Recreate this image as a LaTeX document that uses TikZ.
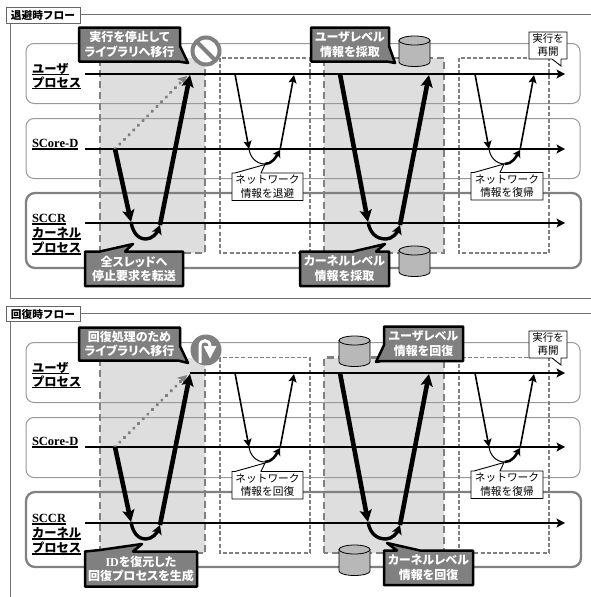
\documentclass[tikz,border=0pt]{standalone}
\usepackage{fontspec}
\setmainfont{Noto Sans CJK JP}
\newfontfamily\jpp{Noto Sans CJK JP}[RawFeature={+palt}]
\newfontfamily\tms{Liberation Serif}
\usetikzlibrary{arrows.meta}
\tikzset{
  every node/.style={inner sep=0pt,outer sep=0pt,align=center},
  lane/.style={rounded corners=8pt,draw=black!40,line width=1pt},
  kernellane/.style={rounded corners=9pt,draw=black!50,line width=2.3pt},
  shade/.style={fill=black!13,draw=none},
  thickdash/.style={draw=black!50,line width=2.7pt,dash pattern=on 7pt off 4pt},
  thindash/.style={draw=black!50,line width=1.2pt,dash pattern=on 4pt off 2.2pt},
  timeline/.style={line width=2.4pt,-{Stealth[length=8.5pt,width=9pt,inset=2pt]}},
  bigarrow/.style={line width=4.6pt,-{Stealth[length=12pt,width=12pt,inset=2.5pt]}},
  bigcurve/.style={line width=3.4pt,-{Stealth[length=9pt,width=10pt,inset=2pt]}},
  smallarrow/.style={line width=1.6pt,-{Stealth[length=8pt,width=8pt,inset=1.5pt]}},
  smallcurve/.style={line width=1pt},
  smallcurvetip/.style={line width=2.6pt,-{Stealth[length=7pt,width=8.5pt,inset=1.5pt]}},
  dotarrow/.style={draw=black!50,line width=3.2pt,dash pattern=on 0.6pt off 6pt,line cap=round,-{Stealth[length=9pt,width=10pt,inset=2pt]}},
  calloutshape/.style={fill=black!50,draw=black,line width=2.5pt,line join=round},
  callouttext/.style={text=white,font=\jpp\bfseries\fontsize{12}{14.5}\selectfont},
  noteshape/.style={fill=white,draw=black,line width=0.9pt},
  notetext/.style={text=black,font=\fontsize{10.7}{13.2}\selectfont},
  lanelabel/.style={font=\bfseries\fontsize{12.3}{12.3}\selectfont,anchor=west},
  lanelatin/.style={font=\tms\bfseries\fontsize{12.5}{12.5}\selectfont,anchor=west},
  ruleline/.style={line width=1.3pt,draw=black},
  titlebox/.style={draw=black!60,fill=white,line width=0.9pt,minimum width=74pt,minimum height=15.5pt,font=\bfseries\fontsize{10.7}{11}\selectfont},
  framebar/.style={draw=black!55,line width=1pt},
  cyl/.style={fill=black!28,draw=black,line width=0.8pt},
}
\newcommand{\drum}[2]{% left x, top y
  \path[cyl] (#1,#2+4.5) -- (#1,#2+26) arc[start angle=180,end angle=360,x radius=15.5pt,y radius=4.5pt] -- (#1+31,#2+4.5) -- cycle;
  \path[cyl] (#1+15.5,#2+4.5) ellipse[x radius=15.5pt,y radius=4.5pt];
}
% style, text, y of text centre, y of rule
\newcommand{\lanename}[4]{%
  \node[#1] (nm) at (32,#3) {#2};
  \coordinate (nr) at (32,#4);
  \draw[ruleline] (nr) -- (nm.east |- nr);
}
% #1 = y of user line, #2 = y of SCore-D line, #3 = y of SCCR line,
% #4 = top of shading, #5 = bottom of shading, #6..#8 = tops of lanes
\newcommand{\lanes}[8]{%
  \fill[shade] (100,#4) rectangle (205,#5);
  \fill[shade] (324,#4) rectangle (444,#5);
  \path[lane] (26,#6) rectangle (580,#6+60);
  \path[lane] (26,#7) rectangle (580,#7+60);
  \path[kernellane] (26,#8) rectangle (581,#8+75);
  \path[thickdash] (100,#5) -- (100,#4);
  \path[thickdash] (205,#4) -- (205,#5) -- (100,#5);
  \path[thickdash] (324,#5) -- (324,#4) -- (444,#4) -- (444,#5) -- cycle;
  \path[thindash] (220,#4) rectangle (310,#5);
  \path[thindash] (459,#4) rectangle (549,#5);
  \coordinate (ur) at (565,#1);
  \draw[timeline] (ul) -- (ur);
  \coordinate (sl) at (85,#2);  \coordinate (kl) at (85,#3);
  \coordinate (sr) at (565,#2); \coordinate (kr) at (565,#3);
  \draw[timeline] (sl) -- (sr);
  \draw[timeline] (kl) -- (kr);
  % first gray phase
  \coordinate (a0) at (115,#2);   \coordinate (a1) at (131,#3-1);
  \coordinate (a2) at (160,#3+2); \coordinate (a3) at (190,#1+1);
  \coordinate (a4) at (187,#1+2);
  \draw[dotarrow] (a0) -- (a4);
  \draw[bigarrow] (a0) -- (a1);
  \draw[bigcurve] (a1) .. controls (133,#3+10) and (138,#3+16) .. (146,#3+16) .. controls (152,#3+16) and (157,#3+10) .. (a2);
  \draw[bigarrow] (a2) -- (a3);
  % second gray phase
  \coordinate (b0) at (340,#1);   \coordinate (b1) at (368,#3-1);
  \coordinate (b2) at (400,#3+2); \coordinate (b3) at (429,#1+1);
  \draw[bigarrow] (b0) -- (b1);
  \draw[bigcurve] (b1) .. controls (370,#3+10) and (376,#3+16) .. (386,#3+16) .. controls (392,#3+16) and (397,#3+10) .. (b2);
  \draw[bigarrow] (b2) -- (b3);
  % network phases
  \foreach \xa/\xb/\xc/\xd/\xm in {235/249/280/294/265,475/489/520/534/505}{
    \coordinate (c0) at (\xa,#1); \coordinate (c1) at (\xb,#2);
    \coordinate (c2) at (\xm,#2+15); \coordinate (c3) at (\xc,#2+1); \coordinate (c4) at (\xd,#1+1);
    \draw[smallarrow] (c0) -- (c1);
    \draw[smallcurve] (c1) .. controls (\xb+1,#2+8) and (\xb+7,#2+15) .. (c2);
    \draw[smallcurvetip] (c2) .. controls (\xm+7,#2+15) and (\xm+11,#2+8) .. (c3);
    \draw[smallarrow] (c3) -- (c4);
  }
  % lane names
  \lanename{lanelabel}{ユーザ}{#1-5}{#1+0.5}
  \lanename{lanelabel}{プロセス}{#1+8.7}{#1+14.5}
  \lanename{lanelatin}{SCore-D}{#2-6}{#2}
  \lanename{lanelatin}{SCCR}{#3-5}{#3+1}
  \lanename{lanelabel}{カーネル}{#3+9.5}{#3+16}
  \lanename{lanelabel}{プロセス}{#3+25}{#3+31}
}
\newcommand{\netnote}[4]{% left x, top y, right x, text
  \path[noteshape] (#1,#2) -- (#1+3,#2) -- (#1+33,#2-8.5) -- (#1+29,#2) -- (#3,#2) -- (#3,#2+27.5) -- (#1,#2+27.5) -- cycle;
  \node[notetext] at ({(#1+#3)/2},#2+13.7) {ネットワーク\\#4};
}
\newcommand{\resume}[1]{% top y
  \path[noteshape] (529,#1) -- (567,#1) -- (567,#1+27) -- (561,#1+27) -- (561,#1+34) -- (552,#1+27) -- (529,#1+27) -- cycle;
  \node[notetext,font=\fontsize{10.5}{13}\selectfont] at (548,#1+13.5) {実行を\\再開};
}
\begin{document}
\begin{tikzpicture}[x=1pt,y=-1pt]
\useasboundingbox[fill=white] (0,0) rectangle (591,597);

% ---------- saving flow ----------
\draw[framebar] (591,14) -- (10,14) -- (10,298) -- (591,298);
\node[titlebox] (t1) at (43,15.5) {退避時フロー};
\coordinate (ul) at (85,74);
\lanes{74}{149}{223}{58}{253}{43.5}{118.5}{193}
\netnote{232}{173}{303}{情報を退避}
\netnote{471}{172.5}{543}{情報を復帰}
\resume{32}

% stop sign
\draw[draw=black!50,fill=white,line width=4pt] (206,51) circle[radius=13.5pt];
\draw[draw=black!50,line width=4pt] (196.5,41.5) -- (215.5,60.5);
\drum{399}{36}
\drum{399}{246}

\path[calloutshape] (79,27.5) -- (180,27.5) -- (180,46) -- (188,63) -- (178,61.5) -- (79,61.5) -- cycle;
\node[callouttext] (n1) at (129.5,44.5) {実行を停止して\\ライブラリへ移行};
\path[calloutshape] (311,27.5) -- (389,27.5) -- (389,46) -- (395,63) -- (387,61.5) -- (311,61.5) -- cycle;
\node[callouttext] (n2) at (350,44.5) {ユーザレベル\\情報を採取};
\path[calloutshape] (85,251.5) -- (100,251.5) -- (133,244) -- (125,251.5) -- (183,251.5) -- (183,286) -- (85,286) -- cycle;
\node[callouttext] (n3) at (134,268.7) {全スレッドへ\\停止要求を転送};
\path[calloutshape] (300,251.5) -- (353,251.5) -- (385,244) -- (376,251.5) -- (389,251.5) -- (389,286) -- (300,286) -- cycle;
\node[callouttext] (n4) at (344.5,268.7) {カーネルレベル\\情報を採取};

% ---------- recovery flow ----------
\draw[framebar] (591,313.5) -- (10,313.5) -- (10,597);
\node[titlebox] (t2) at (43,314) {回復時フロー};
\coordinate (ul) at (190,373);
\lanes{373}{447}{523}{357.5}{553}{342.5}{417.5}{492}
\netnote{232}{471.5}{303}{情報を回復}
\netnote{471}{471}{543}{情報を復帰}
\resume{331}

% recovery sign
\fill[black!50] (206,350) circle[radius=15.5pt];
\draw[white,line width=3pt] (200,363) -- (200,346) .. controls (200,339) and (210,339) .. (210,346);
\fill[white] (203.5,346) -- (216.5,346) -- (210,358.5) -- cycle;
\drum{339}{336}
\drum{339}{545}

\path[calloutshape] (79,327.5) -- (180,327.5) -- (180,346) -- (188,363) -- (178,360.5) -- (79,360.5) -- cycle;
\node[callouttext] (n5) at (129.5,344) {回復処理のため\\ライブラリへ移行};
\path[calloutshape] (384,326.5) -- (463,326.5) -- (463,361) -- (382,361) -- (376,362) -- (384,345) -- cycle;
\node[callouttext] (n6) at (423.5,343.7) {ユーザレベル\\情報を回復};
\path[calloutshape] (85,551.5) -- (100,550) -- (142,544) -- (133,551.5) -- (197,551.5) -- (197,586.5) -- (85,586.5) -- cycle;
\node[callouttext] (n7) at (141,569) {{\tms\bfseries ID}を復元した\\回復プロセスを生成};
\path[calloutshape] (384,550.5) -- (397,550.5) -- (387,543) -- (420,550.5) -- (473,550.5) -- (473,585) -- (384,585) -- cycle;
\node[callouttext] (n8) at (428.5,567.7) {カーネルレベル\\情報を回復};
\end{tikzpicture}
\end{document}
